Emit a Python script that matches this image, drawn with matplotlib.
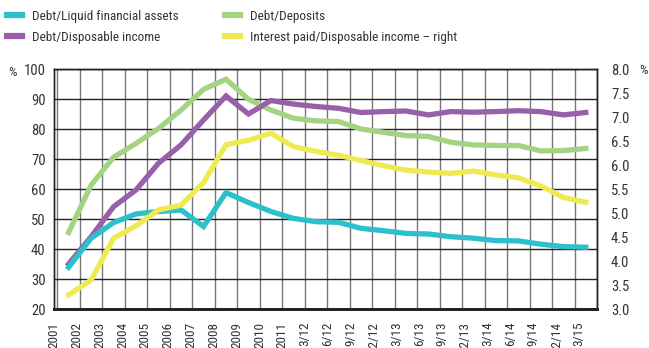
import numpy as np
import matplotlib
matplotlib.use("Agg")
from matplotlib import pyplot as plt
from matplotlib.lines import Line2D

plt.rcParams["font.family"] = ["Roboto Condensed", "DejaVu Sans Condensed",
                               "Liberation Sans Narrow", "DejaVu Sans"]
plt.rcParams["font.stretch"] = "condensed"

periods = ["2001", "2002", "2003", "2004", "2005", "2006", "2007", "2008",
           "2009", "2010", "2011", "3/12", "6/12", "9/12", "12/12", "3/13",
           "6/13", "9/13", "12/13", "3/14", "6/14", "9/14", "12/14", "3/15"]

debt_liquid = [34.0, 43.7, 48.9, 51.8, 52.6, 53.1, 47.6, 58.9, 55.6, 52.6, 50.3, 49.2,
               49.0, 47.0, 46.2, 45.3, 45.1, 44.2, 43.7, 42.9, 42.8, 41.7, 40.9, 40.7]
debt_income = [35.1, 44.2, 54.2, 59.8, 68.7, 74.8, 83.1, 91.1, 85.1, 89.6, 88.4, 87.6,
               87.0, 85.6, 85.9, 86.1, 84.8, 85.9, 85.7, 85.9, 86.2, 85.9, 84.8, 85.6]
debt_deposits = [45.6, 61.4, 70.7, 75.3, 80.3, 86.4, 93.3, 96.7, 90.0, 86.4, 83.7, 82.8,
                 82.6, 80.1, 79.0, 77.9, 77.6, 75.7, 74.8, 74.6, 74.6, 72.8, 72.9, 73.6]
interest_income = [3.30, 3.61, 4.48, 4.74, 5.07, 5.17, 5.64, 6.43, 6.52, 6.67, 6.39, 6.29,
                   6.21, 6.10, 5.99, 5.90, 5.86, 5.83, 5.88, 5.80, 5.74, 5.57, 5.33, 5.23]

c_cyan = "#2cc0cc"
c_purple = "#9a5fa9"
c_green = "#a4d481"
c_yellow = "#eeeb52"
c_text = "#333333"

fig = plt.figure(figsize=(6.49, 3.48), dpi=100)
ax = fig.add_axes([54 / 649, 38.7 / 348, 543 / 649, 240 / 348])
ax2 = ax.twinx()

x = np.arange(len(periods)) + 0.5
lw = 3.8
ax.plot(x, debt_deposits, color=c_green, lw=lw, solid_joinstyle="miter", zorder=3)
ax.plot(x, debt_income, color=c_purple, lw=lw, solid_joinstyle="miter", zorder=4)
ax.plot(x, debt_liquid, color=c_cyan, lw=lw, solid_joinstyle="miter", zorder=5)
ax2.plot(x, interest_income, color=c_yellow, lw=lw, solid_joinstyle="miter", zorder=3)

ax.set_xlim(0, len(periods))
ax.set_ylim(20, 100)
ax2.set_ylim(3.0, 8.0)

# gridlines on category boundaries, labels slightly spread
ax.set_xticks(np.arange(len(periods) + 1), minor=True)
ax.set_xticks(np.linspace(-0.15, 23.2, len(periods)))
ax.set_xticklabels(periods, rotation=90, fontsize=9.5, color=c_text, va="top")
ax.tick_params(axis="x", which="both", length=0, pad=9)
ax.grid(True, axis="x", which="minor", color="#777777", lw=1.0, zorder=1)

ax.set_yticks(np.arange(20, 101, 10))
ax.tick_params(axis="y", length=0, labelsize=10.5, colors=c_text, pad=6)
ax.grid(True, axis="y", which="major", color="#222222", lw=1.0, zorder=1)

ax2.set_yticks(np.arange(3.0, 8.01, 0.5))
ax2.set_yticklabels([f"{v:.1f}" for v in np.arange(3.0, 8.01, 0.5)])
ax2.tick_params(axis="y", length=0, labelsize=10.5, colors=c_text, pad=10)

for a in (ax, ax2):
    for s in ("top", "left", "right"):
        a.spines[s].set_color("#222222")
        a.spines[s].set_linewidth(1.0)
    a.spines["bottom"].set_linewidth(2.0)
    a.spines["bottom"].set_color("#222222")

fig.text(12 / 649, 1 - 73 / 348, "%", fontsize=9.5, color=c_text, ha="center", va="center")
fig.text(643 / 649, 1 - 70 / 348, "%", fontsize=9.5, color=c_text, ha="center", va="center")

left_items = [
    Line2D([], [], color=c_cyan, lw=4.5, label="Debt/Liquid financial assets"),
    Line2D([], [], color=c_purple, lw=4.5, label="Debt/Disposable income"),
]
right_items = [
    Line2D([], [], color=c_green, lw=4.5, label="Debt/Deposits"),
    Line2D([], [], color=c_yellow, lw=4.5, label="Interest paid/Disposable income \u2013 right"),
]
legend_kw = dict(loc="upper left", frameon=False, fontsize=9.5, handlelength=1.15,
                 handletextpad=0.75, labelspacing=0.63, borderaxespad=0, borderpad=0.4,
                 labelcolor=c_text)
fig.legend(handles=left_items, bbox_to_anchor=(1.7 / 649, 1 - 4.5 / 348), **legend_kw)
fig.legend(handles=right_items, bbox_to_anchor=(219.7 / 649, 1 - 4.5 / 348), **legend_kw)

fig.savefig("out.png", dpi=100)
